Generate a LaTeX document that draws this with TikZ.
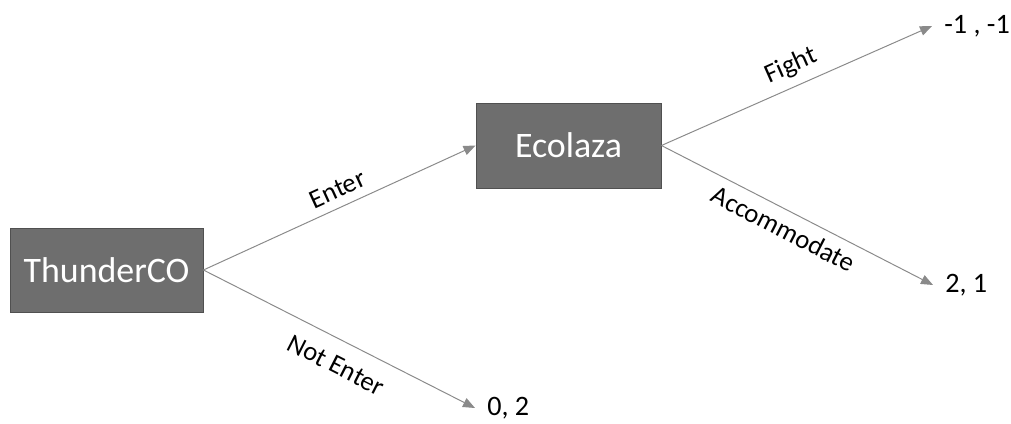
\documentclass[tikz,border=0pt]{standalone}
\usepackage{fontspec}
\setmainfont{Carlito}
\usetikzlibrary{arrows.meta,positioning}
\definecolor{boxgray}{HTML}{6E6E6E}
\definecolor{boxedge}{HTML}{505050}
\definecolor{linegray}{HTML}{8A8A8A}
\tikzset{
  % Base styles
  diagram base/.style={
    x=0.025cm, y=0.025cm,
    >={Triangle[length=0.3cm,width=0.24cm]},
  },
  % Game tree nodes
  player node/.style={rectangle, draw=boxedge, line width=0.6pt, fill=boxgray,
    text=white, font=\fontsize{25.5}{30}\selectfont, inner sep=0pt},
  payoff node/.style={anchor=west, inner xsep=0.3cm, inner ysep=2pt,
    font=\fontsize{20}{24}\selectfont},
  % Branches
  branch/.style={->, draw=linegray, line width=0.7pt},
  % Edge labels
  edge label/.style={font=\fontsize{19}{23}\selectfont, sloped, inner sep=6pt, text=black},
}

\begin{document}
\begin{tikzpicture}[diagram base]
  \useasboundingbox (0,0) rectangle (1011,423);
  \node[player node, minimum width=4.825cm, minimum height=2.1cm] (T) at (106.5,153) {ThunderCO};
  \node[player node, minimum width=4.625cm, minimum height=2.125cm] (E) at (568.5,277.5) {Ecolaza};
  \node[payoff node] (FF) at (932,397) {-1 , -1};
  \node[payoff node] (AC) at (933,138) {2, 1};
  \node[payoff node] (NE) at (475,15) {0, 2};
  \draw[branch] (T.east) -- node[edge label, above, pos=0.52] {Enter} (E.west);
  \draw[branch] (T.east) -- node[edge label, below, pos=0.53, inner sep=11pt] {Not Enter} (NE.west);
  \draw[branch] (E.east) -- node[edge label, above, pos=0.51] {Fight} (FF.west);
  \draw[branch] (E.east) -- node[edge label, below, pos=0.48, inner sep=6pt] {Accommodate} (AC.west);
\end{tikzpicture}
\end{document}
